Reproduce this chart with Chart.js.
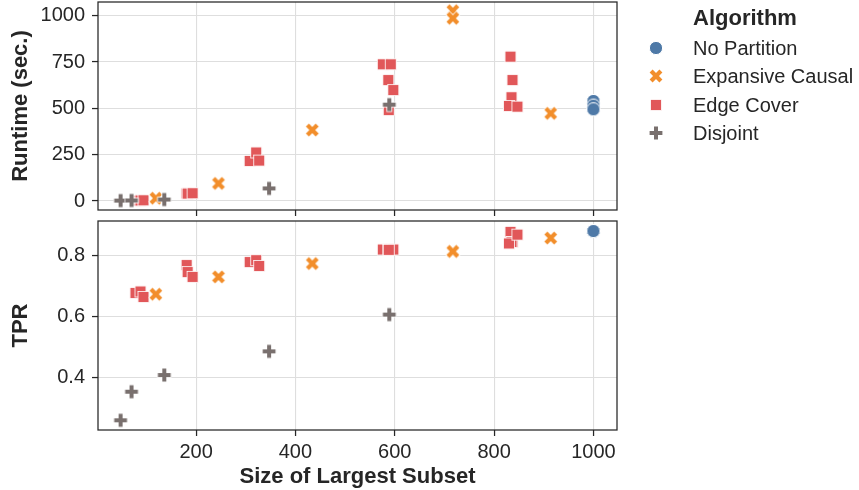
<!DOCTYPE html>
<html><head><meta charset="utf-8">
<script src="https://cdn.jsdelivr.net/npm/chart.js@4/dist/chart.umd.min.js"></script>
<style>
html,body{margin:0;padding:0;background:#fff;}
#wrap{position:relative;width:859px;height:490px;overflow:hidden;font-family:"Liberation Sans",Arial,sans-serif;color:#262626;background:#fff;}
#c1{position:absolute;left:0;top:0;width:859px;height:220px;}
#c2{position:absolute;left:0;top:220px;width:859px;height:270px;}
.lg{position:absolute;white-space:nowrap;font-size:20px;line-height:24px;}
.lgt{position:absolute;white-space:nowrap;font-size:22px;font-weight:bold;line-height:26px;}
.mk{position:absolute;}
</style></head><body>
<div id="wrap">
<canvas id="c1" width="859" height="220"></canvas>
<canvas id="c2" width="859" height="270"></canvas>
<div id="legend"></div>
</div>
<script>
// ---- data ----
const algorithms = ['No Partition', 'Expansive Causal', 'Edge Cover', 'Disjoint'];

const noPartitionSize    = [1000, 1000, 1000];
const noPartitionRuntime = [540, 515, 495];
const noPartitionTPR     = [0.882, 0.882, 0.882];

const expansiveSize    = [119, 245, 434, 717, 717, 914];
const expansiveRuntime = [15, 95, 383, 1027, 986, 473];
const expansiveTPR     = [0.674, 0.731, 0.775, 0.815, 0.815, 0.859];

const edgeCoverSize    = [78, 88, 94, 181, 183, 193, 308, 321, 327, 576, 592, 587, 597, 588, 833, 837, 835, 830, 847];
const edgeCoverRuntime = [2, 3, 4, 41, 40, 42, 216, 262, 218, 738, 738, 653, 599, 491, 779, 653, 560, 513, 509];
const edgeCoverTPR     = [0.678, 0.683, 0.665, 0.770, 0.747, 0.731, 0.780, 0.786, 0.767, 0.821, 0.820, 0.820, 0.821, 0.820, 0.879, 0.846, 0.846, 0.841, 0.870];

const disjointSize    = [48, 70, 136, 347, 589];
const disjointRuntime = [2, 3, 8, 68, 520];
const disjointTPR     = [0.259, 0.353, 0.408, 0.486, 0.607];

const sizeTicks = [200, 400, 600, 800, 1000];
const sizeTickLabels = ['200', '400', '600', '800', '1000'];
const runtimeTicks = [0, 250, 500, 750, 1000];
const runtimeTickLabels = ['0', '250', '500', '750', '1000'];
const tprTicks = [0.4, 0.6, 0.8];
const tprTickLabels = ['0.4', '0.6', '0.8'];

// ---- styles ----
const colors = {np:'#4e79a7', ex:'#f28e2b', ec:'#e15759', dj:'#79706e'};
const FONT = '"Liberation Sans", Arial, sans-serif';
const INK = '#262626';

function makeMarker(kind){
  const c = document.createElement('canvas');
  c.width = 16; c.height = 16;
  const g = c.getContext('2d');
  const m = 8;
  if (kind === 'circle'){
    g.beginPath(); g.arc(m, m, 6.6, 0, Math.PI*2);
    g.fillStyle = colors.np; g.fill();
    g.lineWidth = 1; g.strokeStyle = '#fff'; g.stroke();
  } else if (kind === 'square'){
    g.fillStyle = colors.ec; g.fillRect(m-5.5, m-5.5, 11, 11);
    g.lineWidth = 0.8; g.strokeStyle = '#fff'; g.strokeRect(m-5.5, m-5.5, 11, 11);
  } else if (kind === 'x'){
    const d = 4.9, w = 4.2;
    g.lineCap = 'butt';
    g.strokeStyle = '#fff'; g.lineWidth = w + 1.6;
    g.beginPath(); g.moveTo(m-d-0.6, m-d-0.6); g.lineTo(m+d+0.6, m+d+0.6);
    g.moveTo(m-d-0.6, m+d+0.6); g.lineTo(m+d+0.6, m-d-0.6); g.stroke();
    g.strokeStyle = colors.ex; g.lineWidth = w;
    g.beginPath(); g.moveTo(m-d, m-d); g.lineTo(m+d, m+d);
    g.moveTo(m-d, m+d); g.lineTo(m+d, m-d); g.stroke();
  } else if (kind === 'plus'){
    const d = 6.4, w = 4.0;
    g.lineCap = 'butt';
    g.strokeStyle = '#fff'; g.lineWidth = w + 1.6;
    g.beginPath(); g.moveTo(m-d-0.8, m); g.lineTo(m+d+0.8, m);
    g.moveTo(m, m-d-0.8); g.lineTo(m, m+d+0.8); g.stroke();
    g.strokeStyle = colors.dj; g.lineWidth = w;
    g.beginPath(); g.moveTo(m-d, m); g.lineTo(m+d, m);
    g.moveTo(m, m-d); g.lineTo(m, m+d); g.stroke();
  }
  return c;
}
const markers = {np:makeMarker('circle'), ex:makeMarker('x'), ec:makeMarker('square'), dj:makeMarker('plus')};

function pts(xs, ys){ return xs.map((x, i) => ({x: x, y: ys[i]})); }

function datasets(npY, exY, ecY, djY){
  return [
    {label: algorithms[3], data: pts(disjointSize, djY), pointStyle: markers.dj, pointRadius: 7, order: 0},
    {label: algorithms[1], data: pts(expansiveSize, exY), pointStyle: markers.ex, pointRadius: 7, order: 1},
    {label: algorithms[2], data: pts(edgeCoverSize, ecY), pointStyle: markers.ec, pointRadius: 7, order: 2},
    {label: algorithms[0], data: pts(noPartitionSize, npY), pointStyle: markers.np, pointRadius: 7, order: 3}
  ];
}

const framePlugin = {
  id: 'frame',
  afterDatasetsDraw(chart){
    const a = chart.chartArea, ctx = chart.ctx;
    ctx.save();
    ctx.strokeStyle = INK; ctx.lineWidth = 1.25;
    ctx.strokeRect(a.left, a.top, a.right - a.left, a.bottom - a.top);
    ctx.restore();
  }
};

function build(id, data, yMin, yMax, yTicks, yLabels, yTitle, showX, xHeight, padTop){
  return new Chart(document.getElementById(id), {
    type: 'scatter',
    data: {datasets: data},
    options: {
      responsive: false,
      animation: false,
      events: [],
      layout: {autoPadding: false, padding: {top: padTop, right: 242, left: 0, bottom: 0}},
      plugins: {legend: {display: false}, tooltip: {enabled: false}},
      scales: {
        x: {
          type: 'linear', min: 2.5, max: 1047.5,
          afterBuildTicks: s => { s.ticks = sizeTicks.map(v => ({value: v})); },
          afterFit: s => { s.height = xHeight; s.paddingLeft = 0; s.paddingRight = 0; s.paddingTop = 0; s.paddingBottom = 0; },
          ticks: {display: showX, color: INK, font: {family: FONT, size: 20}, padding: 4,
                  callback: (v) => sizeTickLabels[sizeTicks.indexOf(v)], maxRotation: 0, autoSkip: false},
          grid: {color: '#dedede', lineWidth: 1.1, drawTicks: true, tickLength: 6, tickColor: INK, tickWidth: 1.25},
          border: {display: false},
          title: {display: showX, text: 'Size of Largest Subset', color: INK,
                  font: {family: FONT, size: 22, weight: 'bold'}, padding: {top: 0, bottom: 0}}
        },
        y: {
          type: 'linear', min: yMin, max: yMax,
          afterBuildTicks: s => { s.ticks = yTicks.map(v => ({value: v})); },
          afterFit: s => { s.width = 98; s.paddingLeft = 0; s.paddingRight = 0; s.paddingTop = 0; s.paddingBottom = 0; },
          ticks: {color: INK, font: {family: FONT, size: 20}, padding: 7,
                  callback: (v) => yLabels[yTicks.indexOf(v)]},
          grid: {color: '#dedede', lineWidth: 1.1, drawTicks: true, tickLength: 6, tickColor: INK, tickWidth: 1.25},
          border: {display: false},
          title: {display: true, text: yTitle, color: INK,
                  font: {family: FONT, size: 22, weight: 'bold'}, padding: {top: 8, bottom: 0}}
        }
      }
    },
    plugins: [framePlugin]
  });
}

build('c1', datasets(noPartitionRuntime, expansiveRuntime, edgeCoverRuntime, disjointRuntime),
      -48.6, 1074, runtimeTicks, runtimeTickLabels, 'Runtime (sec.)', false, 10, 2);
build('c2', datasets(noPartitionTPR, expansiveTPR, edgeCoverTPR, disjointTPR),
      0.227, 0.915, tprTicks, tprTickLabels, 'TPR', true, 60, 1);

// ---- legend (HTML, real text) ----
const lg = document.getElementById('legend');
const title = document.createElement('div');
title.className = 'lgt'; title.textContent = 'Algorithm';
title.style.left = '693px'; title.style.top = (18 - 13) + 'px';
lg.appendChild(title);
const keys = ['np', 'ex', 'ec', 'dj'];
const rowY = [47.7, 76.2, 104.7, 133.2];
keys.forEach((k, i) => {
  const t = document.createElement('div');
  t.className = 'lg'; t.textContent = algorithms[i];
  t.style.left = '693px'; t.style.top = (rowY[i] - 12) + 'px';
  lg.appendChild(t);
  const m = makeMarker({np:'circle', ex:'x', ec:'square', dj:'plus'}[k]);
  m.className = 'mk';
  m.style.left = (656 - 8) + 'px'; m.style.top = (rowY[i] - 8) + 'px';
  lg.appendChild(m);
});
</script>
</body></html>
